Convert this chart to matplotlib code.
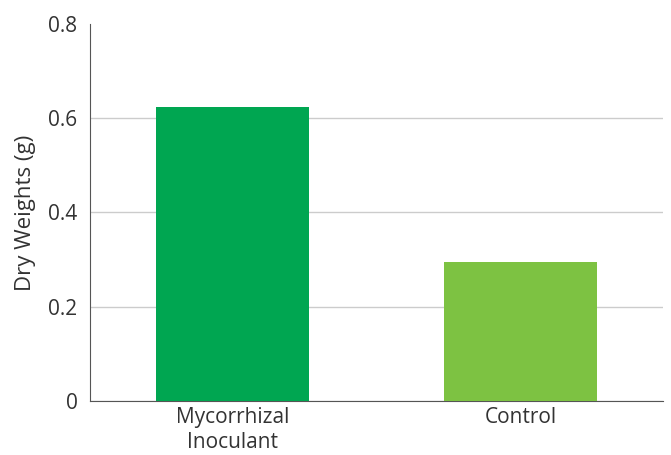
import matplotlib
matplotlib.use("Agg")
import matplotlib.pyplot as plt

categories = ["Mycorrhizal\nInoculant", "Control"]
values = [0.624, 0.295]
colors = ["#00A651", "#7DC242"]
yticks = [0, 0.2, 0.4, 0.6, 0.8]
ytick_labels = ["0", "0.2", "0.4", "0.6", "0.8"]

plt.rcParams['font.family'] = ['Open Sans', 'DejaVu Sans']

fig = plt.figure(figsize=(6.71, 4.55), dpi=100)
ax = fig.add_axes([90/671, 1-401/455, (663-90)/671, (401-24)/455])

x = list(range(len(categories)))
ax.bar(x, values, width=0.53, color=colors, zorder=3)
ax.set_xlim(-0.495, 1.495)
ax.set_ylim(0, 0.8)
ax.set_yticks(yticks)
ax.set_yticklabels(ytick_labels, fontsize=15, color="#333333")
ax.set_xticks(x)
ax.set_xticklabels(categories, fontsize=15, color="#333333", linespacing=1.25)
ax.tick_params(axis='both', length=0)
ax.tick_params(axis='x', pad=4)
ax.tick_params(axis='y', pad=9)
ax.yaxis.grid(True, color="#cccccc", linewidth=1, zorder=0)
ax.yaxis.get_gridlines()[-1].set_visible(False)
for s in ["top", "right"]:
    ax.spines[s].set_visible(False)
ax.spines["left"].set_color("#555555")
ax.spines["bottom"].set_color("#555555")
ax.set_ylabel("Dry Weights (g)", fontsize=16, color="#333333", labelpad=9)

fig.savefig("out.png", dpi=100)
